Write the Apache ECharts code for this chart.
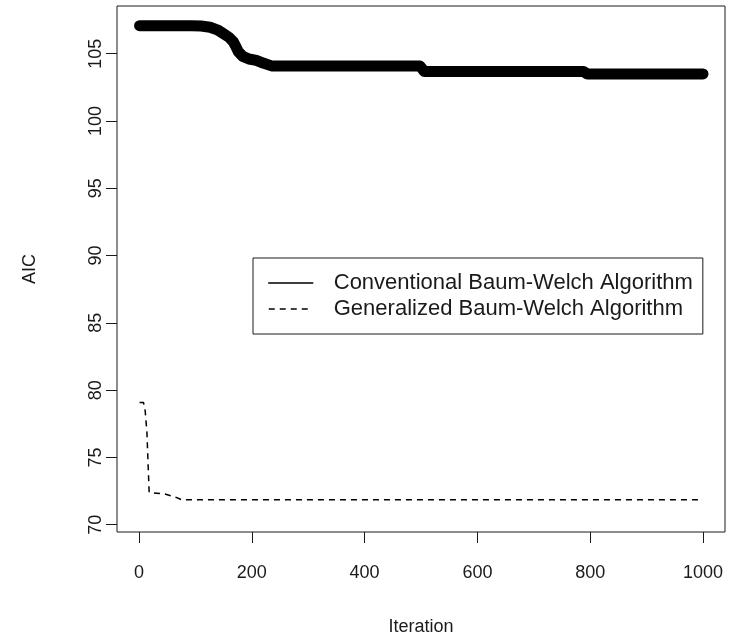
<!DOCTYPE html>
<html>
<head>
<meta charset="utf-8">
<script src="https://cdn.jsdelivr.net/npm/echarts@6/dist/echarts.min.js"></script>
<style>
  html, body { margin: 0; padding: 0; background: #fff; }
  #chart { width: 729px; height: 641px; }
</style>
</head>
<body>
<div id="chart"></div>
<script>
// AIC per iteration
const convIter = [1, 93, 110, 126, 140, 149, 160, 167, 172, 176, 184, 195, 208, 220, 235, 498, 506, 788, 795, 1000]
const convAic = [107.08, 107.08, 107.05, 106.96, 106.75, 106.5, 106.2, 105.9, 105.5, 105.15, 104.8, 104.6, 104.5, 104.3, 104.09, 104.09, 103.67, 103.67, 103.49, 103.49]

const genIter = [1, 8, 11, 14, 18, 46, 66, 76, 1000]
const genAic = [79.08, 79.08, 78.45, 76.9, 72.4, 72.28, 72.03, 71.85, 71.85]

const xTicks = [0, 200, 400, 600, 800, 1000]
const yTicks = [70, 75, 80, 85, 90, 95, 100, 105]

const font = "'Liberation Sans', Arial, sans-serif"
const ink = "#1a1a1a"

const toPairs = (xs, ys) => xs.map((x, i) => [x, ys[i]])

const chart = echarts.init(document.getElementById("chart"))

chart.setOption({
  animation: false,
  backgroundColor: "#fff",
  grid: {
    left: 117, right: 4, top: 6, bottom: 108,
    show: true, borderColor: ink, borderWidth: 1
  },
  legend: {
    orient: "vertical",
    left: 253, top: 258,
    padding: [12, 10, 12, 15],
    itemGap: 0,
    itemWidth: 44,
    itemHeight: 26,
    borderColor: ink,
    borderWidth: 1,
    itemStyle: { opacity: 0 },
    lineStyle: { width: 1.5 },
    textStyle: { fontFamily: font, fontSize: 22, color: ink, padding: [0, 0, 0, 16], lineHeight: 26 },
    data: ["Conventional Baum-Welch Algorithm", "Generalized Baum-Welch Algorithm"]
  },
  xAxis: {
    type: "value",
    min: -39, max: 1039,
    name: "Iteration",
    nameLocation: "middle",
    nameGap: 86,
    nameTextStyle: { fontFamily: font, fontSize: 18, color: ink },
    axisLine: { show: false, onZero: false },
    splitLine: { show: false },
    axisTick: { show: true, length: 11, lineStyle: { color: ink }, customValues: xTicks },
    axisLabel: { fontFamily: font, fontSize: 18, color: ink, margin: 32, customValues: xTicks, formatter: v => String(v) }
  },
  yAxis: {
    type: "value",
    min: 69.46, max: 108.54,
    name: "AIC",
    nameLocation: "middle",
    nameGap: 78,
    nameTextStyle: { fontFamily: font, fontSize: 18, color: ink },
    axisLine: { show: false, onZero: false },
    splitLine: { show: false },
    axisTick: { show: true, length: 11, lineStyle: { color: ink }, customValues: yTicks },
    axisLabel: { fontFamily: font, fontSize: 18, color: ink, margin: 12, rotate: 90, customValues: yTicks, formatter: v => String(v) }
  },
  series: [
    {
      name: "Conventional Baum-Welch Algorithm",
      type: "line",
      symbol: "none",
      data: toPairs(convIter, convAic),
      lineStyle: { color: "#000", width: 11, cap: "round", join: "round" },
      itemStyle: { color: "#000" }
    },
    {
      name: "Generalized Baum-Welch Algorithm",
      type: "line",
      symbol: "none",
      data: toPairs(genIter, genAic),
      lineStyle: { color: "#000", width: 1.5, type: [6, 5] },
      itemStyle: { color: "#000" }
    }
  ]
})
</script>
</body>
</html>
